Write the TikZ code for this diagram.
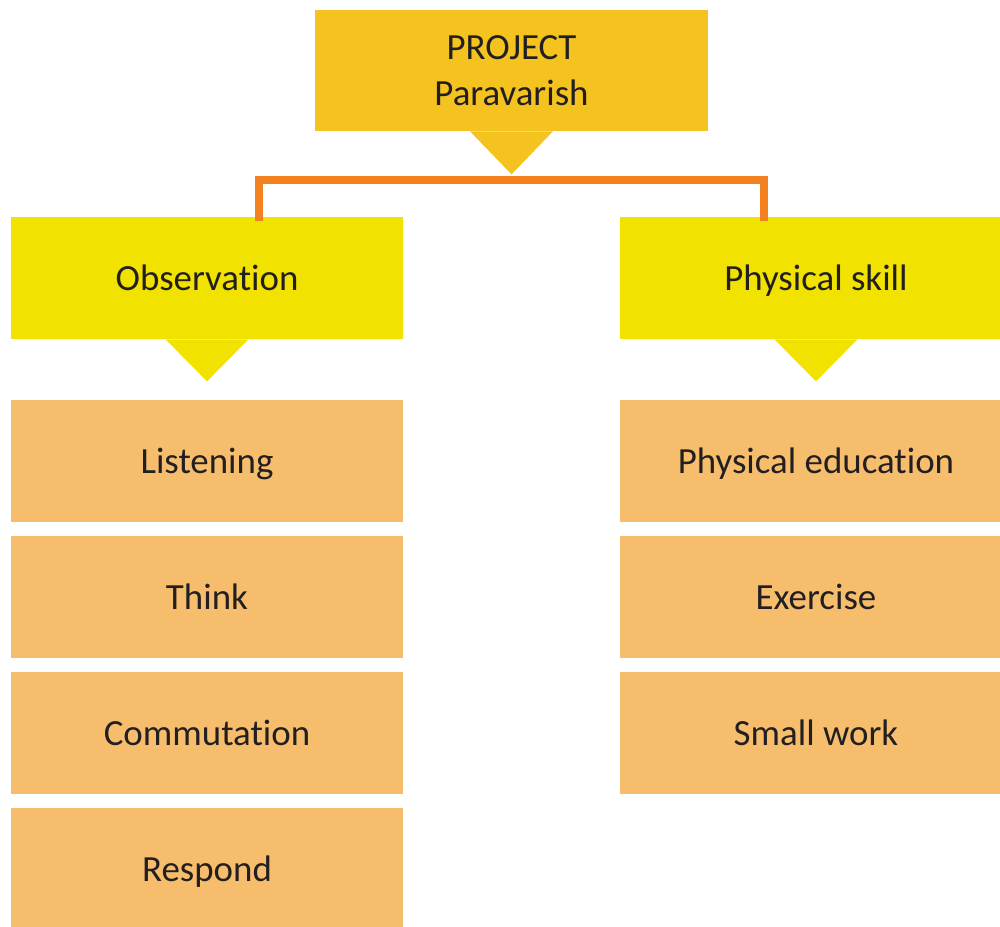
\documentclass[tikz,border=0pt]{standalone}
\usepackage{fontspec}
\setmainfont{Carlito}[Ligatures=NoCommon]
\definecolor{projectgold}{HTML}{F4C320}
\definecolor{groupyellow}{HTML}{F2E200}
\definecolor{itempeach}{HTML}{F6BE6C}
\definecolor{linkorange}{HTML}{F38120}
\definecolor{textdark}{HTML}{231F20}
\newcommand{\boxfont}{\fontsize{21}{26.5}\selectfont}
\tikzset{
  box/.style={inner sep=0pt, minimum width=7.84cm, minimum height=2.44cm,
    text=textdark, font=\boxfont},
  headbox/.style={box, fill=projectgold, minimum width=7.86cm,
    minimum height=2.42cm, align=center, text depth=-3.4pt},
  groupbox/.style={box, fill=groupyellow, text height=13.8pt, text depth=0pt},
  itembox/.style={box, fill=itempeach, text height=13.8pt, text depth=0pt},
  link/.style={draw=linkorange, line width=0.16cm, line cap=rect}
}
\begin{document}
\begin{tikzpicture}
                    \clip (0,0) rectangle (20.000000,18.540000);
                    
                    % Drawing box PROJECT
                    \node [headbox] (project) at (10.230000,17.130000) {PROJECT\\Paravarish};%
                    \fill [projectgold] ([xshift=-0.830000cm]project.south) -- ([xshift=0.830000cm]project.south) -- ([yshift=-0.860000cm]project.south) -- cycle;%
                    \coordinate (fork) at ([yshift=-0.970000cm]project.south);%
                    
                    % Drawing box Observation
                    \node [groupbox] (obs) at (4.140000,12.980000) {Observation};%
                    \fill [groupyellow] ([xshift=-0.830000cm]obs.south) -- ([xshift=0.830000cm]obs.south) -- ([yshift=-0.840000cm]obs.south) -- cycle;%
                    
                    % Drawing box Physical skill
                    \node [groupbox] (phys) at (16.320000,12.980000) {Physical skill};%
                    \fill [groupyellow] ([xshift=-0.830000cm]phys.south) -- ([xshift=0.830000cm]phys.south) -- ([yshift=-0.840000cm]phys.south) -- cycle;%
                    
                    % Drawing link PROJECT Observation Physical skill
                    \draw [link] ([xshift=1.040000cm]obs.north) |- (fork) -| ([xshift=-1.040000cm]phys.north);%
                    
                    % Drawing boxes under Observation
                    \node [itembox] (listen) at (4.140000,9.320000) {Listening};%
                    \node [itembox] (think) at (4.140000,6.600000) {Think};%
                    \node [itembox] (commute) at (4.140000,3.880000) {Commutation};%
                    \node [itembox] (respond) at (4.140000,1.160000) {Respond};%
                    
                    % Drawing boxes under Physical skill
                    \node [itembox] (physedu) at (16.320000,9.320000) {Physical education};%
                    \node [itembox] (exercise) at (16.320000,6.600000) {Exercise};%
                    \node [itembox] (smallwork) at (16.320000,3.880000) {Small work};%
                    
                    \end{tikzpicture}
\end{document}
